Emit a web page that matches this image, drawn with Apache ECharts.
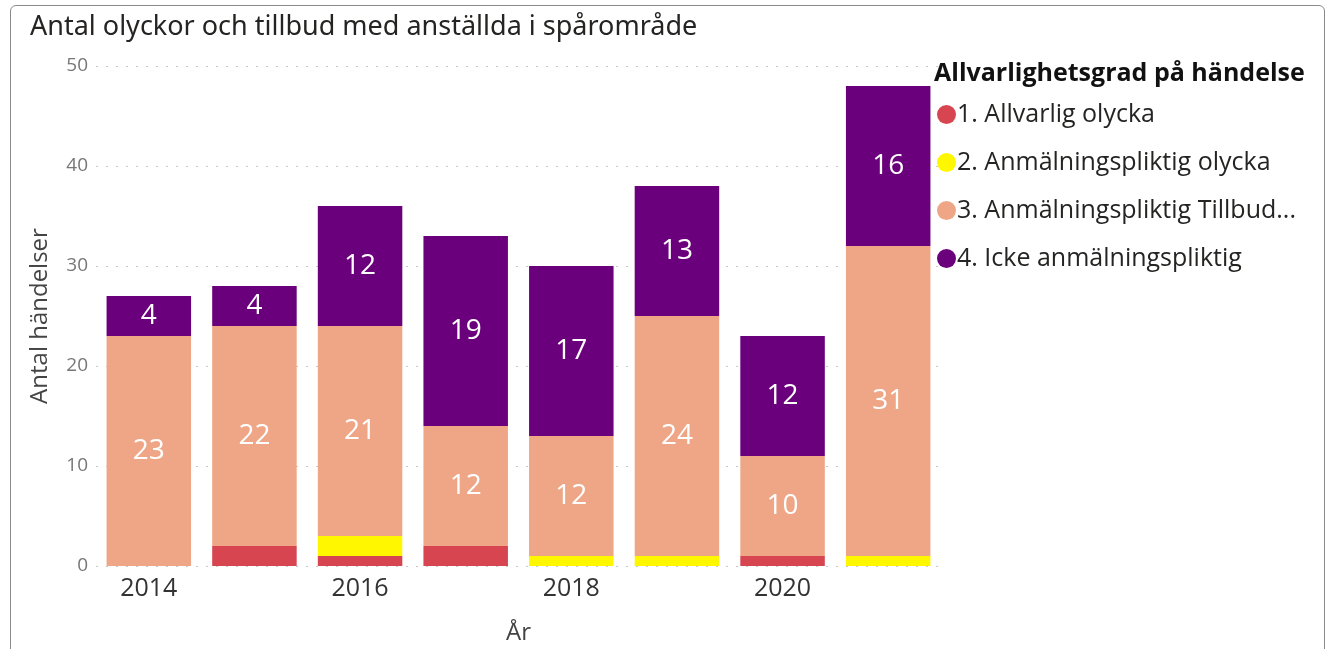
<!DOCTYPE html>
<html>
<head>
<meta charset="utf-8">
<script src="https://cdn.jsdelivr.net/npm/echarts@6/dist/echarts.min.js"></script>
<style>
  html, body { margin: 0; padding: 0; background: #fff; }
  #main { width: 1332px; height: 649px; }
  #frame { position: absolute; left: 10px; top: 5px; width: 1315px; height: 660px;
           border: 1px solid #8a8a8a; border-radius: 6px; box-sizing: border-box; pointer-events: none; }
</style>
</head>
<body>
<div id="main"></div>
<div id="frame"></div>
<script>
  // år
  const years = ['2014', '2015', '2016', '2017', '2018', '2019', '2020', '2021'];
  // allvarlighetsgrad
  const allvarlig      = [0, 2, 1, 2, 0, 0, 1, 0];
  const anmOlycka      = [0, 0, 2, 0, 1, 1, 0, 1];
  const anmTillbud     = [23, 22, 21, 12, 12, 24, 10, 31];
  const ickeAnm        = [4, 4, 12, 19, 17, 13, 12, 16];
  const seriesNames = ['1. Allvarlig olycka', '2. Anmälningspliktig olycka',
                       '3. Anmälningspliktig Tillbud...', '4. Icke anmälningspliktig'];
  const colors = ['#D64550', '#FFF700', '#EEA686', '#6A007B'];

  let chart = echarts.init(document.getElementById('main'));

  function bar(name, data, color, withLabel) {
    return {
      name: name,
      type: 'bar',
      stack: 'total',
      data: data,
      barCategoryGap: '20%',
      itemStyle: { color: color },
      label: {
        show: withLabel,
        position: 'inside',
        color: '#fff',
        fontSize: 28,
        fontFamily: 'Open Sans'
      }
    };
  }

  let option = {
    animation: false,
    title: [
      {
        text: 'Antal olyckor och tillbud med anställda i spårområde',
        left: 25, top: 9,
        textStyle: { fontSize: 27, fontWeight: 'normal', color: '#252423', fontFamily: 'Noto Sans' }
      },
      {
        text: 'Allvarlighetsgrad på händelse',
        left: 929, top: 56,
        textStyle: { fontSize: 25, fontWeight: 'bold', color: '#111', fontFamily: 'Open Sans' }
      }
    ],
    legend: {
      orient: 'vertical',
      left: 932, top: 97,
      icon: 'circle',
      itemWidth: 19, itemHeight: 19,
      itemGap: 23,
      textStyle: { fontSize: 25, lineHeight: 25, color: '#252423', fontFamily: 'Open Sans', padding: [0, 0, 0, -4] },
      data: seriesNames
    },
    grid: { left: 96, right: 391, top: 66, bottom: 83, outerBoundsMode: 'none' },
    xAxis: {
      type: 'category',
      data: years,
      name: 'År',
      nameLocation: 'middle',
      nameGap: 55,
      nameTextStyle: { fontSize: 24, color: '#444', fontFamily: 'Open Sans' },
      axisLine: { show: false },
      axisTick: { show: false },
      axisLabel: { interval: 1, fontSize: 25, color: '#333', margin: 10, fontFamily: 'Open Sans' }
    },
    yAxis: {
      type: 'value',
      min: 0, max: 50, interval: 10,
      name: 'Antal händelser',
      nameLocation: 'middle',
      nameGap: 44,
      nameTextStyle: { fontSize: 24, color: '#444', fontFamily: 'Open Sans' },
      axisLabel: { fontSize: 19, color: '#777', margin: 8, fontFamily: 'Open Sans' },
      splitLine: { lineStyle: { type: [2, 8], color: '#c8c8c8', width: 1 } }
    },
    series: [
      bar(seriesNames[0], allvarlig, colors[0], false),
      bar(seriesNames[1], anmOlycka, colors[1], false),
      bar(seriesNames[2], anmTillbud, colors[2], true),
      bar(seriesNames[3], ickeAnm, colors[3], true)
    ]
  };

  chart.setOption(option);
</script>
</body>
</html>
